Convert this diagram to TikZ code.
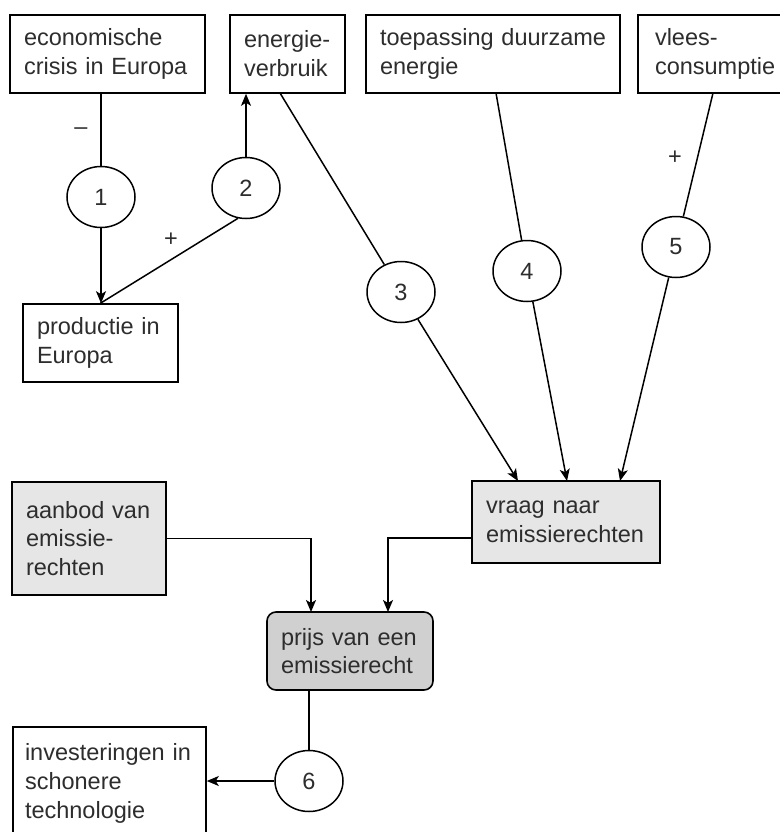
\documentclass[tikz,border=0pt]{standalone}
\usepackage{fontspec}
\setmainfont{Liberation Sans}
\usetikzlibrary{arrows.meta,shapes.geometric}
\definecolor{lichtgrijs}{RGB}{230,230,230}
\definecolor{donkergrijs}{RGB}{208,208,208}
\definecolor{tekstgrijs}{RGB}{45,45,45}

\begin{document}
\begin{tikzpicture}[x=1pt,y=-1pt,
    font=\fontsize{23.5pt}{28.8pt}\selectfont, text=tekstgrijs,
    blok/.style={draw,line width=1.6pt, align=left, inner xsep=14pt, inner ysep=0pt, text width=#1},
    bol/.style={ellipse,draw,line width=1.5pt, fill=white, inner sep=0pt, minimum width=68pt, minimum height=61pt}]
    \useasboundingbox (0,0) rectangle (779,832);
    \draw
    (107.5,54) node[blok=167, minimum height=78pt](crisis){economische\\crisis in Europa}
    (287.5,54) node[blok=87, minimum height=78pt](energie){energie-\\verbruik}
    (493,54) node[blok=226, minimum height=78pt](duurzaam){toepassing duurzame\\energie}
    (722,54) node[blok=134, inner xsep=17pt, minimum height=78pt](vlees){vlees-\\consumptie}
    (100.5,343) node[blok=127, minimum height=78pt](productie){productie in\\Europa}
    (89,538.5) node[blok=126, minimum height=113pt, fill=lichtgrijs](aanbod){aanbod van\\emissie-\\rechten}
    (566,522) node[blok=160, minimum height=82pt, fill=lichtgrijs](vraag){vraag naar\\emissierechten}
    (350,651) node[blok=138, minimum height=78pt, fill=donkergrijs, rounded corners=9pt](prijs){prijs van een\\emissierecht}
    (109.5,783.5) node[blok=169, inner xsep=12pt, minimum height=113pt](investering){investeringen in\\schonere\\technologie}
    ;
    % aangrijpingspunten op de randen
    \coordinate (e3) at (280,93);
    \coordinate (d4) at (496,93);
    \coordinate (v5) at (713,93);
    \coordinate (in3) at (518,481);
    \coordinate (in4) at (567,481);
    \coordinate (in5) at (620,481);
    \coordinate (pa) at (311,612);
    \coordinate (pv) at (388,612);
    \coordinate (vl) at (472,538);
    \begin{scope}[line width=1.5pt, every edge/.style={draw,line width=1.5pt},
        pijl/.style={-{Stealth[length=12pt,width=10pt,inset=3pt]}}]
        \draw (101,197) node[bol](b1){1};
        \draw (246,188) node[bol](b2){2};
        \draw (401,292) node[bol](b3){3};
        \draw (527,271) node[bol](b4){4};
        \draw (676,247) node[bol](b5){5};
        \draw (309,781) node[bol](b6){6};
        \path (b1) edge (b1 |- crisis.south)
              (b1) edge[pijl] (b1 |- productie.north)
              (b2.255) edge (productie.north)
              (b2) edge[pijl] (b2 |- energie.south)
              (e3) edge (b3)
              (b3) edge[pijl] (in3)
              (d4) edge (b4)
              (b4) edge[pijl] (in4)
              (v5) edge (b5)
              (b5) edge[pijl] (in5)
              (b6) edge (b6 |- prijs.south)
              (b6) edge[pijl] (b6 -| investering.east);
        \draw[pijl] (aanbod.east) -| (pa);
        \draw[pijl] (vl) -| (pv);
    \end{scope}
    \node (min1) at (81,131) {–};
    \node (plus2) at (171,240) {+};
    \node (plus5) at (675,158) {+};
\end{tikzpicture}
\end{document}
